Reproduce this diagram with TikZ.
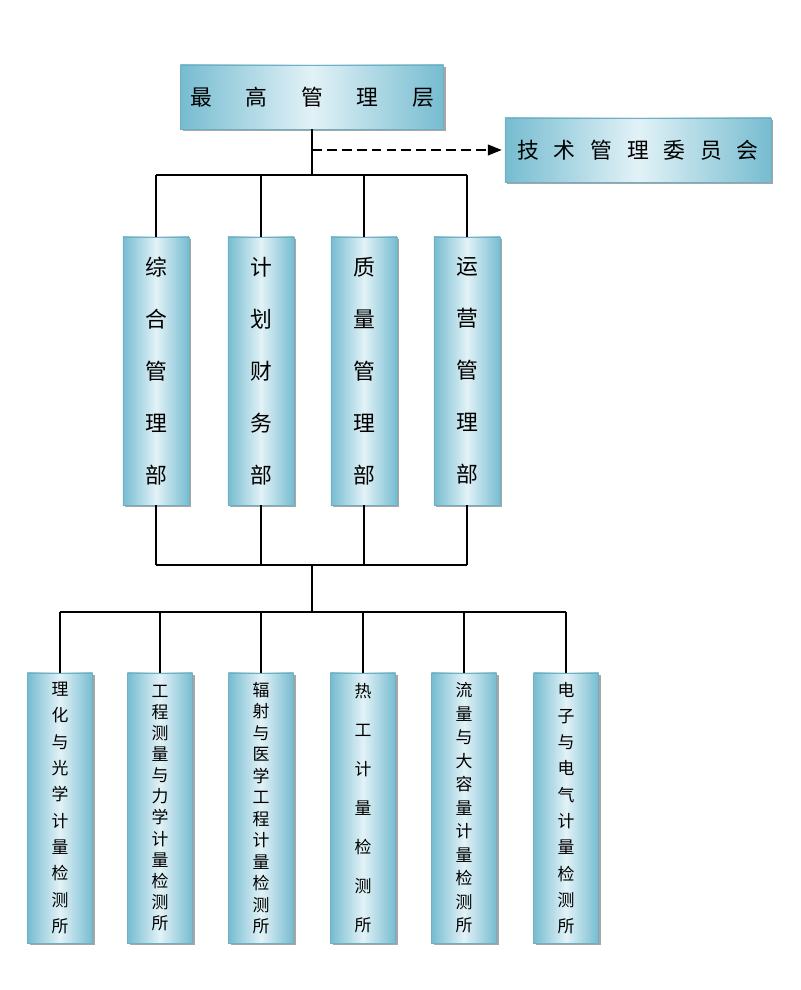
\documentclass[tikz,border=0pt]{standalone}
\usepackage{fontspec}
\newfontfamily\cjk{Noto Sans CJK SC}
\usetikzlibrary{shadows,arrows.meta}
\definecolor{boxedge}{RGB}{118,188,208}
\definecolor{boxmid}{RGB}{226,242,247}
\definecolor{boxline}{RGB}{115,175,195}
\begin{document}
\begin{tikzpicture}[x=0.025cm,y=-0.025cm,
  box/.style={draw=boxline, line width=0.4pt, left color=boxedge, right color=boxedge, middle color=boxmid,
    drop shadow={shadow xshift=1.6pt,shadow yshift=-1.6pt,fill=black,opacity=0.35},
    inner sep=0pt, align=center, font=\cjk},
  hbox/.style={box, minimum height=1.6cm, font=\cjk\fontsize{15.5}{18}\selectfont},
  mbox/.style={box, minimum width=1.65cm, minimum height=6.7cm, font=\cjk\fontsize{15.5}{37}\selectfont},
  bbox/.style={box, minimum width=1.625cm, minimum height=6.75cm, font=\cjk\fontsize{12}{#1}\selectfont},
  conn/.style={line width=1.1pt, black},
]
\useasboundingbox (0,0) rectangle (800,990);

% top level
\node[hbox, minimum width=6.575cm] (top) at (312,97) {最\hspace{24pt}高\hspace{24pt}管\hspace{24pt}理\hspace{24pt}层};
\node[hbox, minimum width=6.65cm] (tech) at (638,150) {技\hspace{10.5pt}术\hspace{10.5pt}管\hspace{10.5pt}理\hspace{10.5pt}委\hspace{10.5pt}员\hspace{10.5pt}会};

% departments
\node[mbox] (m1) at (156,371) {综\\合\\管\\理\\部};
\node[mbox] (m2) at (261,371) {计\\划\\财\\务\\部};
\node[mbox] (m3) at (364,371) {质\\量\\管\\理\\部};
\node[mbox] (m4) at (467,371) {运\\营\\管\\理\\部};

% institutes
\node[bbox=18.7pt] (b1) at (60,808) {理\\化\\与\\光\\学\\计\\量\\检\\测\\所};
\node[bbox=15.0pt] (b2) at (160,808) {工\\程\\测\\量\\与\\力\\学\\计\\量\\检\\测\\所};
\node[bbox=15.3pt] (b3) at (261,808) {辐\\射\\与\\医\\学\\工\\程\\计\\量\\检\\测\\所};
\node[bbox=27.7pt] (b4) at (363,808) {热\\工\\计\\量\\检\\测\\所};
\node[bbox=16.7pt] (b5) at (464,808) {流\\量\\与\\大\\容\\量\\计\\量\\检\\测\\所};
\node[bbox=18.7pt] (b6) at (566,808) {电\\子\\与\\电\\气\\计\\量\\检\\测\\所};

% junctions
\coordinate (d) at (312,150);
\coordinate (j1) at (312,175);
\coordinate (j2) at (312,565);
\coordinate (j3) at (312,612);

% connectors
\draw[conn] (top.south) -- (j1);
\draw[line width=1.5pt, dash pattern=on 7pt off 3.6pt, -{Triangle[length=10pt,width=7.5pt]}, shorten >=2pt] (d) -- (tech.west |- d);
\draw[conn] (m1.north |- j1) -- (m4.north |- j1);
\foreach \m in {m1,m2,m3,m4} {
  \draw[conn] (\m.north |- j1) -- (\m.north);
  \draw[conn] (\m.south) -- (\m.south |- j2);
}
\draw[conn] (m1.south |- j2) -- (m4.south |- j2);
\draw[conn] (j2) -- (j3);
\draw[conn] (b1.north |- j3) -- (b6.north |- j3);
\foreach \b in {b1,b2,b3,b4,b5,b6} {
  \draw[conn] (\b.north |- j3) -- (\b.north);
}
\end{tikzpicture}
\end{document}
